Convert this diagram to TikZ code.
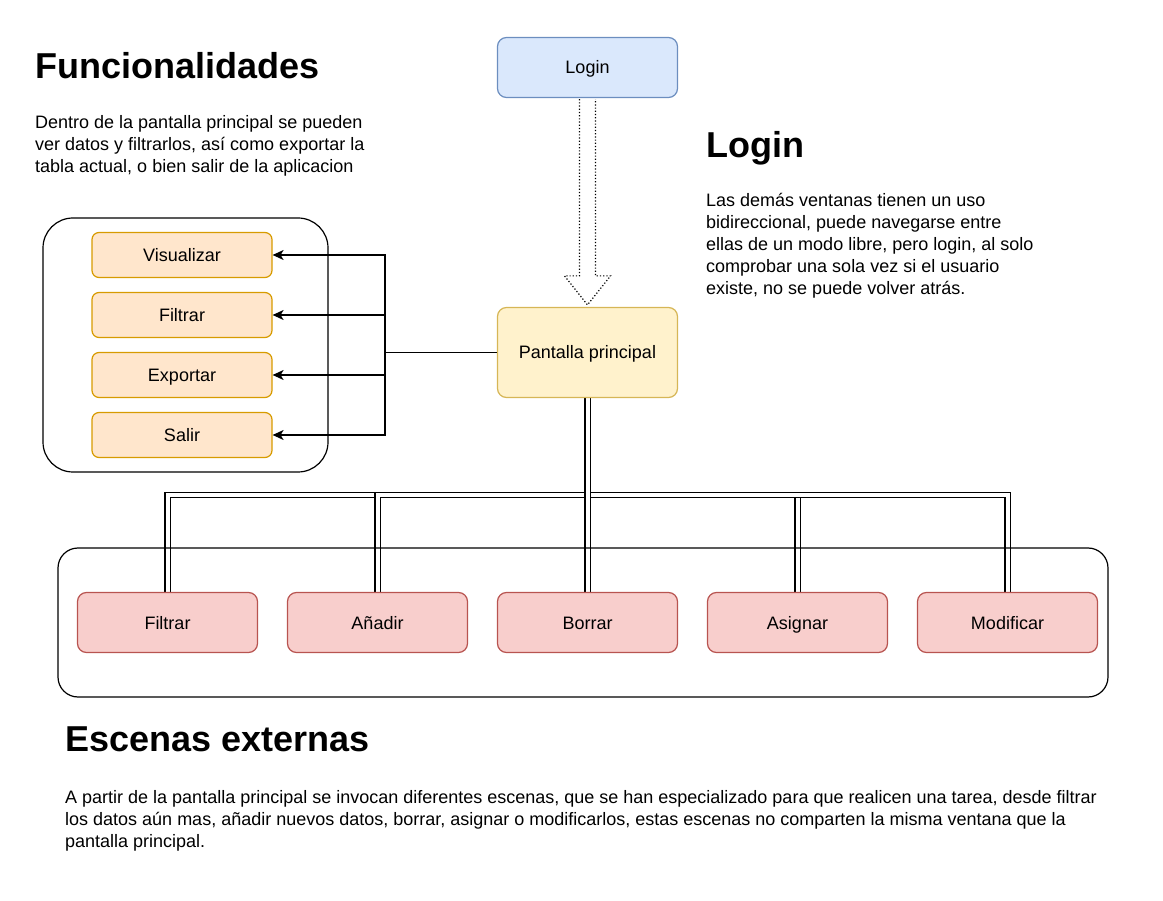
\documentclass[tikz,border=0pt]{standalone}
\usepackage{fontspec}
\setmainfont{Liberation Sans}
\usetikzlibrary{positioning,arrows.meta,calc,backgrounds}

\definecolor{bluef}{HTML}{DAE8FC}
\definecolor{blued}{HTML}{6C8EBF}
\definecolor{yelf}{HTML}{FFF2CC}
\definecolor{yeld}{HTML}{D6B656}
\definecolor{orf}{HTML}{FFE6CC}
\definecolor{ord}{HTML}{D79B00}
\definecolor{redf}{HTML}{F8CECC}
\definecolor{redd}{HTML}{B85450}

\begin{document}
\begin{tikzpicture}[x=1pt, y=-1pt, font=\fontsize{18}{22}\selectfont]
		\useasboundingbox (0,0) rectangle (1163,901);
		% textos
		\begin{scope}[every node/.style={anchor=north west, inner sep=0, align=left}]
			\node (h1) at (35,52) {\bfseries\fontsize{36}{40}\selectfont Funcionalidades};
			\node (p1) at (35,115) {Dentro de la pantalla principal se pueden\\ver datos y filtrarlos, así como exportar la\\tabla actual, o bien salir de la aplicacion};
			\node (h2) at (706,131) {\bfseries\fontsize{36}{40}\selectfont Login};
			\node (p2) at (706,193) {Las demás ventanas tienen un uso\\bidireccional, puede navegarse entre\\ellas de un modo libre, pero login, al solo\\comprobar una sola vez si el usuario\\existe, no se puede volver atrás.};
			\node (h3) at (65,727) {\bfseries\fontsize{36}{40}\selectfont Escenas externas};
			\node (p3) at (65,790) {A partir de la pantalla principal se invocan diferentes escenas, que se han especializado para que realicen una tarea, desde filtrar\\los datos aún mas, añadir nuevos datos, borrar, asignar o modificarlos, estas escenas no comparten la misma ventana que la\\pantalla principal.};
		\end{scope}
		% ventanas principales
		\begin{scope}[every node/.style={rounded corners=9, line width=1.2pt, minimum width=180, inner sep=0, text height=15pt, text depth=2pt}]
			\node[fill=bluef, draw=blued, minimum height=60] (login) at (587.5,67.5) {Login};
			\node[fill=yelf, draw=yeld, minimum height=90] (pp) at (587.5,352.5) {Pantalla principal};
		\end{scope}
		% flecha login
		\draw[dotted, line width=1.2pt, fill=white] ($(login.south)+(-8,1)$) -- ($(pp.north)+(-8,-31)$) -- ($(pp.north)+(-23,-31)$)
			-- ($(pp.north)+(0,-2)$) -- ($(pp.north)+(23,-31)$) -- ($(pp.north)+(8,-31)$) -- ($(login.south)+(8,1)$);
		% funcionalidades
		\node[draw, line width=1.2pt, rounded corners=30, minimum width=285, minimum height=254] (g1) at (185.5,345) {};
		\begin{scope}[every node/.style={fill=orf, draw=ord, rounded corners=7, line width=1.2pt, minimum width=180, minimum height=45, inner sep=0, text height=15pt, text depth=2pt}]
			\node (vis) at (182,255) {Visualizar};
			\node (fil) at (182,315) {Filtrar};
			\node (exp) at (182,375) {Exportar};
			\node (sal) at (182,435) {Salir};
		\end{scope}
		\coordinate (j) at (385,352.5);
		\draw[line width=1.4pt] (pp.west) -- (j);
		\begin{scope}[every path/.style={line width=1.4pt, -{Stealth[length=11pt, width=10pt, inset=3pt]}}]
			\draw (j) |- (vis.east);
			\draw (j) |- (fil.east);
			\draw (j) |- (exp.east);
			\draw (j) |- (sal.east);
		\end{scope}
		% escenas externas
		\node[draw, line width=1.2pt, rounded corners=20, minimum width=1050, minimum height=149] (g2) at (583,622.5) {};
		\begin{scope}[every node/.style={fill=redf, draw=redd, rounded corners=9, line width=1.2pt, minimum width=180, minimum height=60, inner sep=0, text height=15pt, text depth=2pt}]
			\node (s1) at (167.5,622.5) {Filtrar};
			\node (s2) at (377.5,622.5) {Añadir};
			\node (s3) at (587.5,622.5) {Borrar};
			\node (s4) at (797.5,622.5) {Asignar};
			\node (s5) at (1007.5,622.5) {Modificar};
		\end{scope}
		\coordinate (bus) at (0,495);
		\begin{scope}[on background layer, every path/.style={draw=black, double=white, line width=1.4pt, double distance=4pt}]
			\draw (pp.south) -- (pp.south |- bus) -| (s1.north);
			\draw (pp.south) -- (pp.south |- bus) -| (s2.north);
			\draw (pp.south) -- (pp.south |- bus) -| (s4.north);
			\draw (pp.south) -- (pp.south |- bus) -| (s5.north);
			\draw (pp.south) -- (s3.north);
		\end{scope}
	\end{tikzpicture}
\end{document}
